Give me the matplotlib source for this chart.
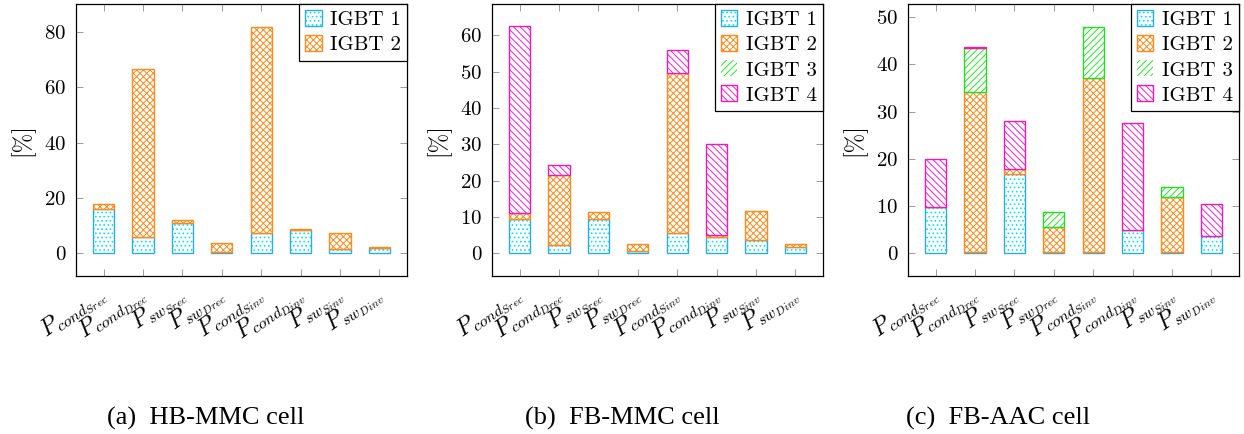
import matplotlib
matplotlib.use('Agg')
import matplotlib.pyplot as plt
import numpy as np

plt.rcParams['mathtext.fontset'] = 'cm'
plt.rcParams['font.family'] = 'cmr10'
plt.rcParams['axes.formatter.use_mathtext'] = True
plt.rcParams['hatch.linewidth'] = 0.7

# categories (inner subscripts kept at one size, like TeX's scriptscriptstyle)
labels = [r'$P_{cond_{Srec}}$', r'$P_{cond_{Drec}}$', r'$P_{sw_{Srec}}$', r'$P_{sw_{Drec}}$',
          r'$P_{cond_{Sinv}}$', r'$P_{cond_{Dinv}}$', r'$P_{sw_{Sinv}}$', r'$P_{sw_{Dinv}}$']
series = ['IGBT 1', 'IGBT 2', 'IGBT 3', 'IGBT 4']

# (a) HB-MMC cell
hb_igbt1 = [16.0, 5.9, 10.8, 0.4, 7.5, 8.3, 1.4, 2.0]
hb_igbt2 = [1.8, 60.7, 1.3, 3.2, 74.4, 0.6, 5.8, 0.2]

# (b) FB-MMC cell
fb_igbt1 = [9.6, 2.2, 9.4, 0.6, 5.5, 4.6, 3.6, 1.8]
fb_igbt2 = [1.4, 19.5, 1.9, 1.9, 44.0, 0.5, 8.2, 0.7]
fb_igbt3 = [0, 0, 0, 0, 0, 0, 0, 0]
fb_igbt4 = [51.5, 2.6, 0, 0, 6.5, 24.9, 0, 0]

# (c) FB-AAC cell
aac_igbt1 = [9.8, 0.2, 16.8, 0.2, 0.2, 4.9, 0.2, 3.7]
aac_igbt2 = [0.1, 33.9, 1.1, 5.3, 36.9, 0.1, 11.7, 0]
aac_igbt3 = [0, 9.3, 0, 3.2, 10.9, 0, 2.2, 0]
aac_igbt4 = [10.1, 0.3, 10.2, 0, 0, 22.6, 0, 6.8]

captions = ['(a)  HB-MMC cell', '(b)  FB-MMC cell', '(c)  FB-AAC cell']

# style per series: hatch, hatch colour, edge colour
styles = [('....', '#00E5FF', '#2AAEEA'),
          ('xxxxx', '#FF8A1A', '#FF8A1A'),
          ('/////', '#22EE22', '#22DD22'),
          ('\\\\\\\\\\', '#FF19E0', '#F01AB0')]


def draw(ax, data, ylim, yticks):
    x = np.arange(len(labels))
    bottom = np.zeros(len(labels))
    handles = []
    for vals, (hatch, hcol, ecol) in zip(data, styles):
        vals = np.array(vals, dtype=float)
        lw = np.where(vals > 0, 1.0, 0.0)
        h1 = ax.bar(x, vals, 0.54, bottom=bottom, color='white', edgecolor=hcol,
                    hatch=hatch, linewidth=0)
        h2 = ax.bar(x, vals, 0.54, bottom=bottom, fill=False, edgecolor=ecol, linewidth=lw)
        handles.append((h1, h2))
        bottom += vals
    ax.set_xlim(-0.7, 7.7)
    ax.set_ylim(*ylim)
    ax.set_yticks(yticks)
    ax.set_xticks(x, labels, rotation=35, ha='right', va='center', rotation_mode='anchor')
    ax.tick_params(direction='in', top=True, right=True, length=5, width=0.6,
                   color='#8c8c8c', labelsize=15)
    ax.tick_params(axis='y', pad=7)
    ax.tick_params(axis='x', pad=11, labelsize=17)
    for s in ax.spines.values():
        s.set_linewidth(0.9)
    ax.set_ylabel('[%]', fontsize=17)
    ax.yaxis.set_label_coords(-0.125, 0.5)
    leg = ax.legend(handles, series[:len(data)], loc='upper right', borderaxespad=0,
                    fancybox=False, framealpha=1, edgecolor='black', fontsize=15,
                    handlelength=0.8, handleheight=0.8, handletextpad=0.4,
                    borderpad=0.3, labelspacing=0.28)
    leg.get_frame().set_linewidth(0.9)


fig = plt.figure(figsize=(12.44, 4.34), dpi=100)
W, H = 1244, 434
lefts = [76, 492, 908]
for i, (data, ylim, yticks) in enumerate([
        ([hb_igbt1, hb_igbt2], (-8.2, 90.2), [0, 20, 40, 60, 80]),
        ([fb_igbt1, fb_igbt2, fb_igbt3, fb_igbt4], (-6.2, 68.6), [0, 10, 20, 30, 40, 50, 60]),
        ([aac_igbt1, aac_igbt2, aac_igbt3, aac_igbt4], (-4.8, 52.8), [0, 10, 20, 30, 40, 50])]):
    ax = fig.add_axes([lefts[i] / W, (H - 276) / H, 331 / W, 272 / H])
    draw(ax, data, ylim, yticks)

cap_x = [206, 622, 998]
for cx, cap in zip(cap_x, captions):
    fig.text(cx / W, 1 - 418 / H, cap, ha='center', va='center',
             fontfamily='Liberation Serif', fontsize=19)

fig.savefig('out.png', dpi=100)
